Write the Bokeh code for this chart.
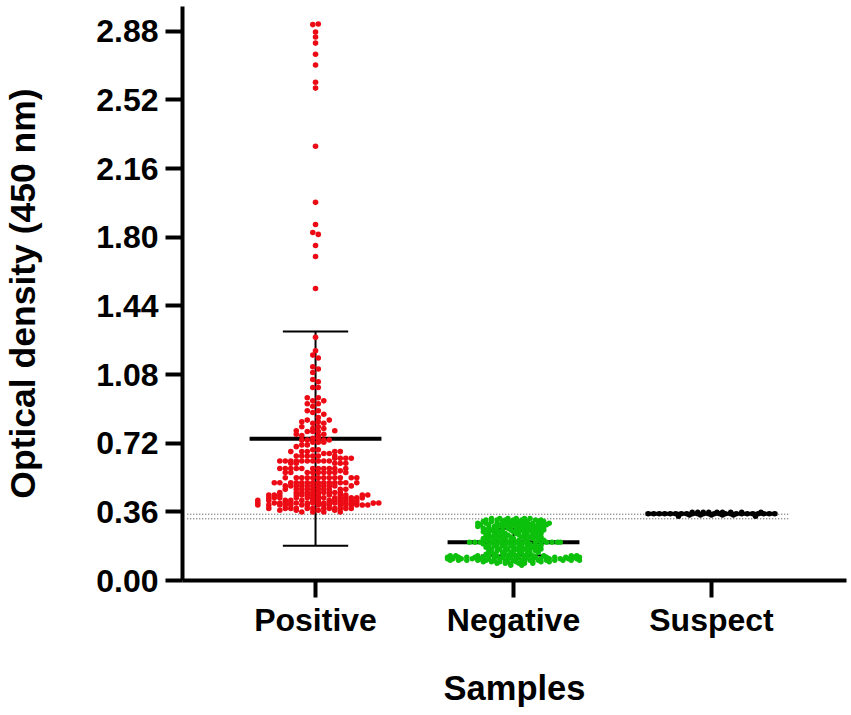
from bokeh.embed import file_html
from bokeh.resources import INLINE
from bokeh.plotting import figure
from bokeh.models import FixedTicker

categories = ["Positive", "Negative", "Suspect"]
y_ticks = [0.00, 0.36, 0.72, 1.08, 1.44, 1.80, 2.16, 2.52, 2.88]
y_tick_labels = ["0.00", "0.36", "0.72", "1.08", "1.44", "1.80", "2.16", "2.52", "2.88"]

# swarm rows: optical density level and the occupied half-column slots at that level
pos_levels = [2.918, 2.915, 2.876, 2.85, 2.818, 2.76, 2.703, 2.613, 2.582, 2.277, 1.983, 1.867, 1.825, 1.815,
              1.757, 1.699, 1.531, 1.275, 1.205, 1.182, 1.167, 1.121, 1.109, 1.091, 1.054, 1.042, 1.012, .958,
              .942, .927, .914, .890, .881, .872, .855, .841, .832, .825, .806, .797, .785, .781, .767, .760,
              .746, .737, .725, .711, .702, .685, .676, .666, .653, .641, .627, .615, .587, .575, .566, .539,
              .513, .496, .478, .461, .448, .434, .420, .406, .396, .378, .368, .359]
pos_slots = [[1], [-1], [0], [0], [0], [0], [0], [0], [0], [0], [0], [0], [-1], [1],
             [0], [0], [0], [0], [0], [-1], [1], [-1], [1], [-1], [-1], [1], [-1, 1], [-3, 1],
             [-1, 3], [-3, 1], [-1], [-3, 1], [-1], [3], [1], [-3, 5], [-5, 1], [-1, 3], [-5, 1], [-1, 3], [-7, 7], [-3, -1, 1], [-7, 3], [-5, 1],
             [-1, 1], [-5, -3, 3, 5], [-1, 1, 3], [-5, -3], [-7], [-1, 1], [-9, -5, -3, 7, 9], [3, 5], [-7, -5, -3, -1, 1, 7], [7, 9, 11, 13],
             [-13, -11, -9, -7, -5, -3, -1, 1, 3, 5], [-9, -7, 7, 9, 11], [-13, -11, -9, -7, -5, -1, 1, 3, 5, 7, 11], [9],
             [-11, -9, -3, -1, 1, 3, 5, 7, 11], [-11, -7, -5, -3, -1, 1, 3, 5, 7, 9, 13, 15],
             [-15, -13, -9, -7, -5, -3, -1, 1, 3, 5, 7, 9, 11, 15], [-11, -9, -7, -5, -3, -1, 1, 3, 5, 7, 13],
             [-11, -7, -5, -3, -1, 1, 3, 5, 9, 11], [-13, -7, -5, -3, -1, 1, 3, 5, 7, 9],
             [-17, -15, -13, -7, -5, -3, -1, 1, 5, 9, 11, 17, 19], [-17, -15, -13, -7, -3, -1, 1, 3, 7, 9, 11, 13, 15, 17],
             [-21, -17, -11, -9, -5, -1, 1, 5, 7, 9, 11, 13, 15],
             [-21, -15, -13, -11, -9, -7, -3, -1, 1, 3, 5, 7, 9, 11, 13, 15, 21, 23],
             [-21, -17, -13, -11, -9, -5, -3, 1, 3, 5, 9, 11, 13, 15, 17, 19],
             [-17, -11, -9, -7, -3, -1, 3, 5, 7, 9, 11, 13], [-13, -7, 1, 7], [-5, -1, 3, 9]]

neg_levels = [.325, .318, .310, .300, .292, .283, .274, .265, .256, .247, .238, .229, .220, .211, .201,
              .192, .183, .174, .165, .156, .147, .138, .130, .122, .114, .106, .098, .090, .080]
neg_slots = [[-8, -5, -2, 1, 4, 6], [-10, -6, -3, 0, 3, 8, 10], [-11, -8, -4, -1, 2, 5, 9, 11],
             [-13, -10, -6, -2, 1, 4, 7, 10, 13], [-12, -9, -5, -3, 0, 3, 6, 9, 12],
             [-13, -7, -4, -1, 2, 5, 8, 11], [-11, -9, -6, -2, 1, 4, 7, 10], [-10, -8, -4, -1, 3, 6, 9, 11],
             [-11, -7, -5, 0, 2, 5, 8, 10], [-9, -6, -3, 1, 4, 7, 10], [-10, -7, -4, -2, 2, 5, 9],
             [-8, -5, -1, 3, 6, 8, 10], [-11, -9, -6, -3, 0, 4, 7, 10], [-10, -7, -4, -1, 2, 5, 9, 11],
             [-16, -14, -12, -8, -5, -2, 1, 4, 8, 12, 14, 16, 17], [-11, -9, -6, -3, 0, 3, 6, 10],
             [-9, -7, -4, -1, 2, 5, 8, 10], [-10, -6, -3, 0, 3, 7, 9], [-8, -5, -2, 1, 4, 6, 10],
             [-9, -6, -3, 0, 2, 5, 8], [-8, -4, -1, 3, 6, 9], [-10, -7, -3, 0, 2, 5],
             [-23, -21, -13, -9, -6, -2, 1, 4, 7, 11, 21, 23],
             [-24, -20, -17, -14, -11, -7, -4, -1, 2, 5, 8, 12, 15, 19, 22, 24],
             [-24, -22, -19, -15, -12, -9, -5, -2, 1, 4, 7, 10, 13, 17, 20, 23],
             [-23, -20, -17, -13, -10, -7, -3, 0, 3, 6, 9, 12, 15, 18, 21, 24],
             [-11, -8, -5, -2, 1, 4, 7, 10, 13], [-6, -3, -1, 2, 4, 7], [-1, 3]]

sus_levels = [.358, .350, .343, .337]
sus_slots = [[-7, -5, -3, -1, 2, 4, 7, 11, 18],
             [-23, -21, -19, -17, -15, -13, -11, -9, -7, -5, -3, -1, 1, 3, 5, 7, 9, 11, 13, 15, 17, 19, 21, 23],
             [-12, -8, -4, 0, 4, 8, 16], [-12, 16]]

means = [0.743, 0.201, 0.350]
sd_high = [1.306, 0.271]
sd_low = [0.182, 0.131]
cutoffs = [0.3477, 0.3235]

SLOT = 2.75 / 198  # half a swarm column in category units
MEAN_HALF = 0.333
CAP_HALF = 0.165


def swarm(center, levels, slots):
    xs, ys = [], []
    for lv, row in zip(levels, slots):
        for s in row:
            xs.append(center + s * SLOT)
            ys.append(lv)
    return xs, ys


p = figure(width=851, height=715, output_backend="svg", toolbar_location=None,
           x_range=(0.328, 3.682), y_range=(0, 3.01),
           min_border_left=182, min_border_right=5, min_border_top=6, min_border_bottom=135)
p.outline_line_color = None
p.grid.visible = False
p.background_fill_color = "white"

p.xaxis.ticker = FixedTicker(ticks=[1, 2, 3])
p.xaxis.major_label_overrides = {i + 1: c for i, c in enumerate(categories)}
p.yaxis.ticker = FixedTicker(ticks=y_ticks)
p.yaxis.major_label_overrides = dict(zip(y_ticks, y_tick_labels))

for ax in (p.xaxis[0], p.yaxis[0]):
    ax.axis_line_width = 4
    ax.axis_line_color = "black"
    ax.major_tick_line_width = 4
    ax.major_tick_line_color = "black"
    ax.major_tick_in = 0
    ax.major_tick_out = 17
    ax.minor_tick_line_color = None
    ax.major_label_text_font = "Liberation Sans"
    ax.major_label_text_font_style = "bold"
    ax.major_label_text_color = "black"
    ax.axis_label_text_font = "Liberation Sans"
    ax.axis_label_text_font_style = "bold"
    ax.axis_label_text_color = "black"

p.yaxis.major_label_text_font_size = "32px"
p.xaxis.major_label_text_font_size = "32px"
p.yaxis.major_label_standoff = 7
p.xaxis.major_label_standoff = 4
p.yaxis.axis_label = "Optical density (450 nm)"
p.yaxis.axis_label_text_font_size = "35.5px"
p.yaxis.axis_label_standoff = 50
p.xaxis.axis_label = "Samples"
p.xaxis.axis_label_text_font_size = "34.5px"
p.xaxis.axis_label_standoff = 28

# cut-off lines
for c in cutoffs:
    p.line([0.352, 3.389], [c, c], line_color="#222222", line_width=0.9, line_dash="1 2")

# error bars
for i in range(2):
    cx = i + 1
    p.line([cx, cx], [sd_low[i], sd_high[i]], line_color="black", line_width=2)
    p.line([cx - CAP_HALF, cx + CAP_HALF], [sd_high[i], sd_high[i]], line_color="black", line_width=2)
    p.line([cx - CAP_HALF, cx + CAP_HALF], [sd_low[i], sd_low[i]], line_color="black", line_width=2)
for i in range(3):
    cx = i + 1
    p.line([cx - MEAN_HALF, cx + MEAN_HALF], [means[i], means[i]], line_color="black", line_width=4)

# swarms
x, y = swarm(1, pos_levels, pos_slots)
p.scatter(x, y, size=5.6, fill_color="#ec0b14", line_color=None)
x, y = swarm(2, neg_levels, neg_slots)
p.scatter(x, y, size=5.4, fill_color="#0cc00c", line_color=None)
x, y = swarm(3, sus_levels, sus_slots)
p.scatter(x, y, size=5.4, fill_color="black", line_color=None)

open("out.html", "w").write(file_html(p, INLINE))
